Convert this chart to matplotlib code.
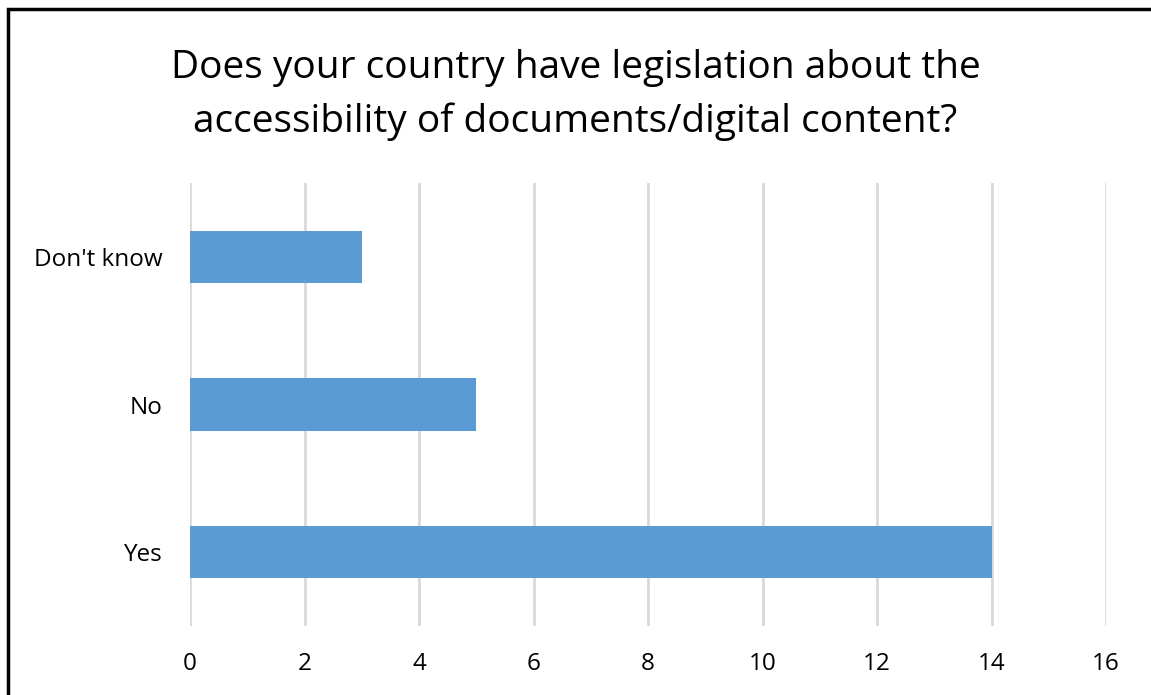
import matplotlib
matplotlib.use("Agg")
import matplotlib.pyplot as plt
from matplotlib.patches import Rectangle

categories = ["Yes", "No", "Don't know"]
values = [14, 5, 3]
xticks = [0, 2, 4, 6, 8, 10, 12, 14, 16]
title = "Does your country have legislation about the\naccessibility of documents/digital content?"

plt.rcParams['font.family'] = ['Open Sans', 'DejaVu Sans']

W, H = 1151, 695
fig = plt.figure(figsize=(W / 100, H / 100), dpi=100)
ax = fig.add_axes([190 / W, 1 - 626 / H, (1106 - 190) / W, (626 - 183) / H])

ypos = list(range(len(categories)))
ax.barh(ypos, values, height=0.355, color="#5B9BD5", zorder=3)
ax.set_xlim(0, 16)
ax.set_ylim(-0.5, 2.5)
ax.set_xticks(xticks)
ax.set_xticklabels([str(t) for t in xticks], fontsize=17.5)
ax.set_yticks(ypos)
ax.set_yticklabels(categories, fontsize=17.5)
ax.tick_params(axis='both', length=0, colors='black')
ax.tick_params(axis='x', pad=19)
ax.tick_params(axis='y', pad=20)
ax.grid(axis='x', color='#D9D9D9', linewidth=2, zorder=0)
for s in ax.spines.values():
    s.set_visible(False)

fig.text(0.5, 1 - 95 / H, title, ha='center', va='center', fontsize=28,
         linespacing=1.52)

fig.patches.append(Rectangle((8 / W, -0.1), 1.2, 1 - 9 / H + 0.1, transform=fig.transFigure,
                             fill=False, edgecolor='black', linewidth=2.5))

fig.savefig("out.png", dpi=100)
